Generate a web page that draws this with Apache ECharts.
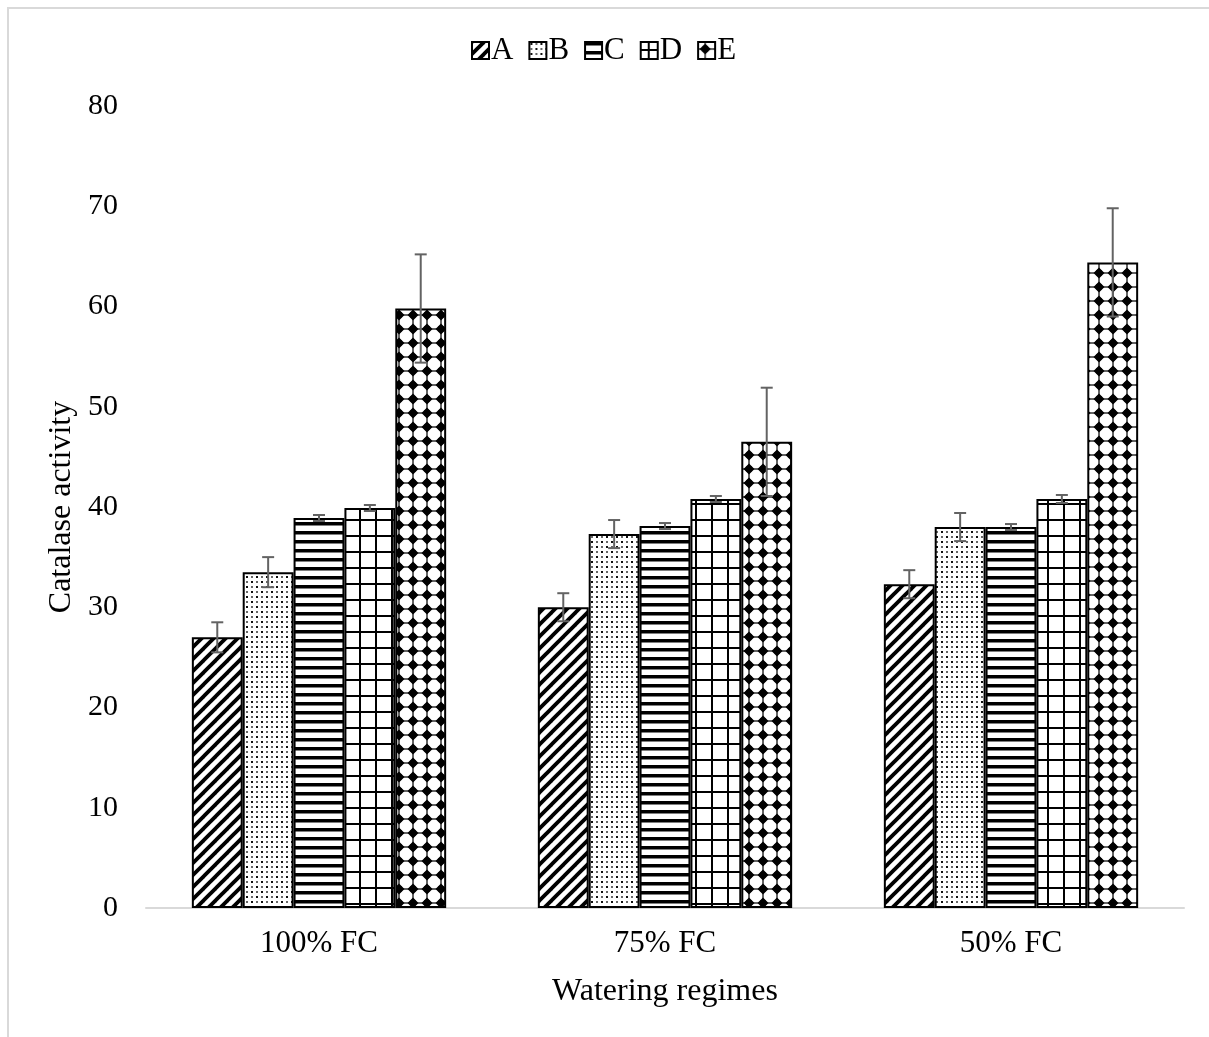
<!DOCTYPE html>
<html>
<head>
<meta charset="utf-8">
<script src="https://cdn.jsdelivr.net/npm/echarts@6/dist/echarts.min.js"></script>
<style>
html,body{margin:0;padding:0;background:#fff;}
#chart{width:1209px;height:1037px;}
#frame{position:absolute;left:7px;top:7px;width:1202px;height:1030px;border-top:2px solid #d9d9d9;border-left:2px solid #d9d9d9;pointer-events:none;}
</style>
</head>
<body>
<div id="chart"></div>
<div id="frame"></div>
<script>
// ---- data ----
const categories = ['100% FC', '75% FC', '50% FC'];
const seriesNames = ['A', 'B', 'C', 'D', 'E'];
const valuesA = [27.0, 30.0, 32.3];
const valuesB = [33.5, 37.3, 38.0];
const valuesC = [38.9, 38.1, 38.0];
const valuesD = [39.9, 40.8, 40.8];
const valuesE = [59.8, 46.5, 64.4];
const errA = [1.5, 1.4, 1.4];
const errB = [1.5, 1.4, 1.4];
const errC = [0.3, 0.3, 0.3];
const errD = [0.3, 0.3, 0.4];
const errE = [5.4, 5.4, 5.4];
const yTicks = [0, 10, 20, 30, 40, 50, 60, 70, 80];

const allValues = [valuesA, valuesB, valuesC, valuesD, valuesE];
const allErrs = [errA, errB, errC, errD, errE];

// ---- patterns ----
function tile(w, h, draw) {
  const c = document.createElement('canvas');
  c.width = w; c.height = h;
  const ctx = c.getContext('2d');
  draw(ctx, w, h);
  return c;
}
const patA = tile(12, 12, (ctx, w, h) => {
  ctx.fillStyle = '#fff'; ctx.fillRect(0, 0, w, h);
  ctx.strokeStyle = '#000'; ctx.lineWidth = 3.8;
  for (let k = -1; k <= 1; k++) {
    ctx.beginPath();
    ctx.moveTo(k * w - 2, h + 2);
    ctx.lineTo(k * w + w + 2, -2);
    ctx.stroke();
  }
});
const patB = tile(10, 10, (ctx, w, h) => {
  ctx.fillStyle = '#fff'; ctx.fillRect(0, 0, w, h);
  ctx.fillStyle = '#111';
  ctx.fillRect(1, 1, 2, 2);
  ctx.fillRect(6, 6, 2, 2);
  ctx.fillStyle = '#666';
  ctx.fillRect(6, 1, 2, 2);
  ctx.fillRect(1, 6, 2, 2);
});
const patC = tile(9, 9, (ctx, w, h) => {
  ctx.fillStyle = '#fff'; ctx.fillRect(0, 0, w, h);
  ctx.fillStyle = '#000'; ctx.fillRect(0, 0, w, 3.5);
});
const patD = tile(16, 16, (ctx, w, h) => {
  ctx.fillStyle = '#fff'; ctx.fillRect(0, 0, w, h);
  ctx.fillStyle = '#000';
  ctx.fillRect(7, 0, 2, h);
  ctx.fillRect(0, 7, w, 2);
});
const patE = tile(14, 14, (ctx, w, h) => {
  ctx.fillStyle = '#fff'; ctx.fillRect(0, 0, w, h);
  ctx.fillStyle = '#000';
  const cx = w / 2, cy = h / 2;
  ctx.beginPath();
  ctx.arc(cx, cy, 3.4, 0, Math.PI * 2);
  ctx.fill();
  ctx.beginPath();
  ctx.moveTo(cx, cy - 5.5);
  ctx.lineTo(cx + 5.5, cy);
  ctx.lineTo(cx, cy + 5.5);
  ctx.lineTo(cx - 5.5, cy);
  ctx.closePath();
  ctx.fill();
  ctx.fillRect(0, cy - 0.6, w, 1.2);
  ctx.fillRect(cx - 0.6, 0, 1.2, h);
});
const patterns = [patA, patB, patC, patD, patE];

const FONT = "'Liberation Serif', 'Times New Roman', serif";
const BAR_FRAC = 0.147;

const barSeries = seriesNames.map((name, i) => ({
  name: name,
  type: 'bar',
  data: allValues[i],
  barWidth: (BAR_FRAC * 100) + '%',
  barGap: '0%',
  itemStyle: {
    color: { image: patterns[i], repeat: 'repeat' },
    borderColor: '#000',
    borderWidth: 2
  },
  z: 2
}));

const errData = [];
seriesNames.forEach((name, si) => {
  categories.forEach((cat, ci) => {
    const v = allValues[si][ci], e = allErrs[si][ci];
    errData.push([ci, si, v - e, v + e]);
  });
});

const errSeries = {
  type: 'custom',
  name: 'err',
  data: errData,
  encode: { x: 0, y: [2, 3] },
  z: 10,
  silent: true,
  renderItem: function (params, api) {
    const ci = api.value(0), si = api.value(1);
    const lo = api.coord([ci, api.value(2)]);
    const hi = api.coord([ci, api.value(3)]);
    const band = api.size([1, 0])[0];
    const bw = band * BAR_FRAC;
    const x = lo[0] + (si - 2) * bw;
    const cap = 6;
    const style = { stroke: '#636363', lineWidth: 2 };
    return {
      type: 'group',
      children: [
        { type: 'line', shape: { x1: x, y1: hi[1], x2: x, y2: lo[1] }, style: style },
        { type: 'line', shape: { x1: x - cap, y1: hi[1], x2: x + cap, y2: hi[1] }, style: style },
        { type: 'line', shape: { x1: x - cap, y1: lo[1], x2: x + cap, y2: lo[1] }, style: style }
      ]
    };
  }
};

const chart = echarts.init(document.getElementById('chart'), null, { renderer: 'canvas' });
chart.setOption({
  animation: false,
  backgroundColor: '#fff',
  textStyle: { fontFamily: FONT },
  legend: {
    data: seriesNames,
    top: 30,
    left: 466,
    itemWidth: 17,
    itemHeight: 17,
    itemGap: 15,
    icon: 'rect',
    textStyle: { fontFamily: FONT, fontSize: 31, color: '#000', padding: [0, 0, 0, -3] },
    itemStyle: { borderColor: '#000', borderWidth: 2 }
  },
  grid: { left: 146, right: 25, top: 106, bottom: 129, containLabel: false },
  xAxis: {
    type: 'category',
    data: categories,
    axisLine: { lineStyle: { color: '#d9d9d9', width: 2 } },
    axisTick: { show: false },
    axisLabel: { fontFamily: FONT, fontSize: 31, color: '#000', margin: 20 },
    name: 'Watering regimes',
    nameLocation: 'middle',
    nameGap: 68,
    nameTextStyle: { fontFamily: FONT, fontSize: 32, color: '#000' }
  },
  yAxis: {
    type: 'value',
    min: yTicks[0],
    max: yTicks[yTicks.length - 1],
    interval: yTicks[1] - yTicks[0],
    axisLine: { show: false },
    axisTick: { show: false },
    splitLine: { show: false },
    axisLabel: { fontFamily: FONT, fontSize: 30, color: '#000', margin: 28 },
    name: 'Catalase activity',
    nameLocation: 'middle',
    nameGap: 68,
    nameTextStyle: { fontFamily: FONT, fontSize: 32, color: '#000' }
  },
  series: barSeries.concat([errSeries])
});
</script>
</body>
</html>
